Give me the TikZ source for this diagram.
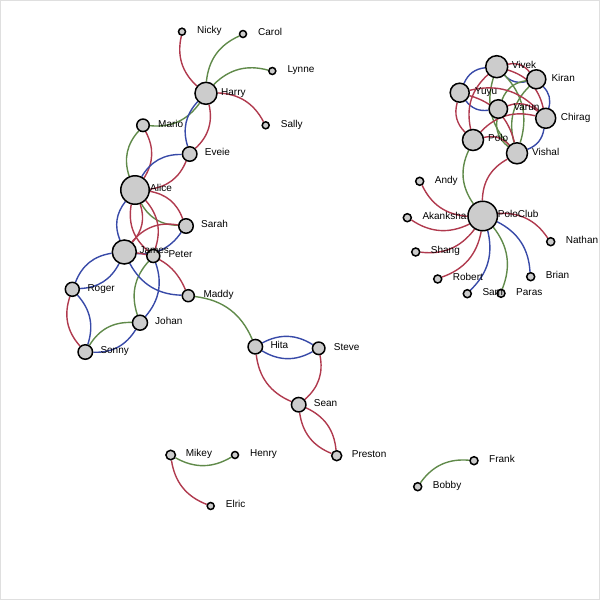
\documentclass[tikz,border=0pt]{standalone}
\usepackage{fontspec}
\setmainfont{Liberation Sans}
\usetikzlibrary{backgrounds}
\definecolor{ered}{RGB}{176,58,78}
\definecolor{egreen}{RGB}{96,138,74}
\definecolor{eblue}{RGB}{56,74,168}
\tikzset{
  pnode/.style={circle, draw=black, fill=gray!40, line width=1.5pt, inner sep=0pt},
  lbl/.style={anchor=base west, inner sep=0pt, font=\fontsize{10}{12}\selectfont},
  link/.style={line width=1.4pt},
  bl/.style={bend left=30},
  br/.style={bend right=30}
}
\begin{document}
\begin{tikzpicture}[x=1pt, y=-1pt]
  \useasboundingbox (0,0) rectangle (600,600);
  \draw[gray!25, line width=0.8pt] (0.5,0.5) rectangle (599.5,599.5);

  % left group
  \node[pnode, minimum size=7pt] (Nicky) at (182,31.7) {};
  \node[pnode, minimum size=7pt] (Carol) at (243,34) {};
  \node[pnode, minimum size=7pt] (Lynne) at (272.3,71) {};
  \node[pnode, minimum size=22pt] (Harry) at (206,93.3) {};
  \node[pnode, minimum size=7pt] (Sally) at (265.7,125.3) {};
  \node[pnode, minimum size=12.5pt] (Mario) at (143,125.3) {};
  \node[pnode, minimum size=14.5pt] (Eveie) at (189.7,154) {};
  \node[pnode, minimum size=28.5pt] (Alice) at (135,190) {};
  \node[pnode, minimum size=14.5pt] (Sarah) at (186,226) {};
  \node[pnode, minimum size=24pt] (James) at (124.3,252) {};
  \node[pnode, minimum size=13pt] (Peter) at (153.3,256) {};
  \node[pnode, minimum size=14pt] (Roger) at (72.3,289.3) {};
  \node[pnode, minimum size=12pt] (Maddy) at (188.3,295.7) {};
  \node[pnode, minimum size=15pt] (Johan) at (140,322.7) {};
  \node[pnode, minimum size=14.5pt] (Sonny) at (85.3,352) {};
  \node[pnode, minimum size=14.5pt] (Hita) at (255.3,346.7) {};
  \node[pnode, minimum size=12.5pt] (Steve) at (318.7,348.3) {};
  \node[pnode, minimum size=14.5pt] (Sean) at (298.7,404.7) {};
  \node[pnode, minimum size=10pt] (Preston) at (336.7,455.7) {};
  \node[pnode, minimum size=9.5pt] (Mikey) at (170.7,455) {};
  \node[pnode, minimum size=7pt] (Henry) at (235,455) {};
  \node[pnode, minimum size=7pt] (Elric) at (210.7,506) {};

  % right group
  \node[pnode, minimum size=22pt] (Vivek) at (496.7,66.7) {};
  \node[pnode, minimum size=19pt] (Kiran) at (536.3,79.3) {};
  \node[pnode, minimum size=19pt] (Yuyu) at (459.7,92.7) {};
  \node[pnode, minimum size=18.5pt] (Varun) at (498.3,109) {};
  \node[pnode, minimum size=20pt] (Chirag) at (545.7,118.3) {};
  \node[pnode, minimum size=21pt] (Polo) at (473,140) {};
  \node[pnode, minimum size=21pt] (Vishal) at (517,153.3) {};
  \node[pnode, minimum size=8pt] (Andy) at (419.7,181.3) {};
  \node[pnode, minimum size=29.5pt] (PoloClub) at (482.7,216) {};
  \node[pnode, minimum size=8pt] (Akanksha) at (407.3,217.7) {};
  \node[pnode, minimum size=8pt] (Nathan) at (550.7,241.7) {};
  \node[pnode, minimum size=8pt] (Shang) at (415.7,252) {};
  \node[pnode, minimum size=8pt] (Brian) at (530.7,276.7) {};
  \node[pnode, minimum size=8pt] (Robert) at (437.7,279) {};
  \node[pnode, minimum size=8pt] (Sam) at (467.3,293.7) {};
  \node[pnode, minimum size=8pt] (Paras) at (501,293.3) {};
  \node[pnode, minimum size=8pt] (Frank) at (474,460.7) {};
  \node[pnode, minimum size=8pt] (Bobby) at (417.7,486.7) {};

  % labels
  \foreach \n in {Nicky,Carol,Lynne,Harry,Sally,Mario,Eveie,Alice,Sarah,James,Peter,Roger,Maddy,Johan,Sonny,Hita,Steve,Sean,Preston,Mikey,Henry,Elric,Vivek,Kiran,Yuyu,Varun,Chirag,Polo,Vishal,Andy,PoloClub,Akanksha,Nathan,Shang,Brian,Robert,Sam,Paras,Frank,Bobby}
    \node[lbl] (t\n) at ([xshift=15pt, yshift=-1.8pt]\n.center) {\n};

  \begin{pgfonlayer}{background}
    % Harry and friends
    \draw[link, ered] (Nicky) to[br] (Harry);
    \draw[link, egreen] (Harry) to[bl] (Carol);
    \draw[link, egreen] (Harry) to[bl] (Lynne);
    \draw[link, ered] (Harry) to[bl] (Sally);
    \draw[link, egreen] (Mario) to[br] (Harry);
    \draw[link, eblue] (Harry) to[br] (Eveie);
    \draw[link, ered] (Harry) to[bl] (Eveie);
    \draw[link, egreen] (Mario) to[br] (Alice);
    \draw[link, ered] (Mario) to[bl] (Alice);
    \draw[link, eblue] (Eveie) to[br] (Alice);
    \draw[link, ered] (Eveie) to[bl] (Alice);
    \draw[link, ered] (Alice) to[bl] (Sarah);
    \draw[link, egreen] (Alice) to[br] (Sarah);
    \draw[link, eblue] (Alice) to[br] (James);
    \draw[link, ered] (Alice) to[bl] (James);
    \draw[link, ered] (Alice) to[br] (Peter);
    \draw[link, ered] (Alice) to[bl] (Peter);
    \draw[link, ered] (James) to[bl] (Sarah);
    \draw[link, eblue] (James) to[br] (Sarah);
    \draw[link, eblue] (James) to[br] (Roger);
    \draw[link, eblue] (James) to[bl] (Roger);
    \draw[link, ered] (Roger) to[br] (Sonny);
    \draw[link, eblue] (Roger) to[bl] (Sonny);
    \draw[link, egreen] (Sonny) to[bl] (Johan);
    \draw[link, eblue] (Sonny) to[br] (Johan);
    \draw[link, egreen] (Peter) to[br] (Johan);
    \draw[link, eblue] (Peter) to[bl] (Johan);
    \draw[link, eblue] (James) to[br] (Maddy);
    \draw[link, ered] (James) to[bl] (Maddy);
    \draw[link, egreen] (Maddy) to[bl] (Hita);
    \draw[link, eblue] (Hita) to[bl] (Steve);
    \draw[link, eblue] (Hita) to[br] (Steve);
    \draw[link, ered] (Hita) to[br] (Sean);
    \draw[link, ered] (Steve) to[bl] (Sean);
    \draw[link, ered] (Sean) to[bl] (Preston);
    \draw[link, ered] (Sean) to[br] (Preston);
    \draw[link, egreen] (Mikey) to[br] (Henry);
    \draw[link, ered] (Mikey) to[br] (Elric);
    \draw[link, egreen] (Bobby) to[bl] (Frank);

    % PoloClub and friends
    \draw[link, ered] (Andy) to[br] (PoloClub);
    \draw[link, ered] (Akanksha) to[br] (PoloClub);
    \draw[link, ered] (Shang) to[br] (PoloClub);
    \draw[link, ered] (Robert) to[br] (PoloClub);
    \draw[link, eblue] (Sam) to[br] (PoloClub);
    \draw[link, egreen] (PoloClub) to[bl] (Paras);
    \draw[link, eblue] (PoloClub) to[bl] (Brian);
    \draw[link, ered] (PoloClub) to[bl] (Nathan);
    \draw[link, egreen] (Polo) to[br] (PoloClub);
    \draw[link, ered] (PoloClub) to[bl] (Vishal);
    \draw[link, eblue] (Yuyu) to[bl] (Vivek);
    \draw[link, eblue] (Yuyu) to[br] (Varun);
    \draw[link, ered] (Vivek) to[bl] (Kiran);
    \draw[link, eblue] (Vivek) to[br] (Kiran);
    \draw[link, eblue] (Kiran) to[bl] (Chirag);
    \draw[link, eblue] (Chirag) to[bl] (Vishal);
    \draw[link, egreen] (Vivek) to[bl] (Vishal);
    \draw[link, egreen] (Vivek) to[br] (Vishal);
    \draw[link, egreen] (Kiran) to[br] (Vishal);
    \draw[link, egreen] (Kiran) to[br] (Varun);
    \draw[link, egreen] (Varun) to[br] (Vishal);
    \draw[link, ered] (Yuyu) to[bl] (Chirag);
    \draw[link, ered] (Varun) to[bl] (Chirag);
    \draw[link, ered] (Yuyu) to[br] (Polo);
    \draw[link, ered] (Vivek) to[br] (Polo);
    \draw[link, ered] (Polo) to[bl] (Chirag);
    \draw[link, ered] (Polo) to[bl] (Vishal);
    \draw[link, ered] (Yuyu) to[bl] (Vishal);
    \draw[link, ered] (Vivek) to[bl] (Chirag);
  \end{pgfonlayer}
\end{tikzpicture}
\end{document}
